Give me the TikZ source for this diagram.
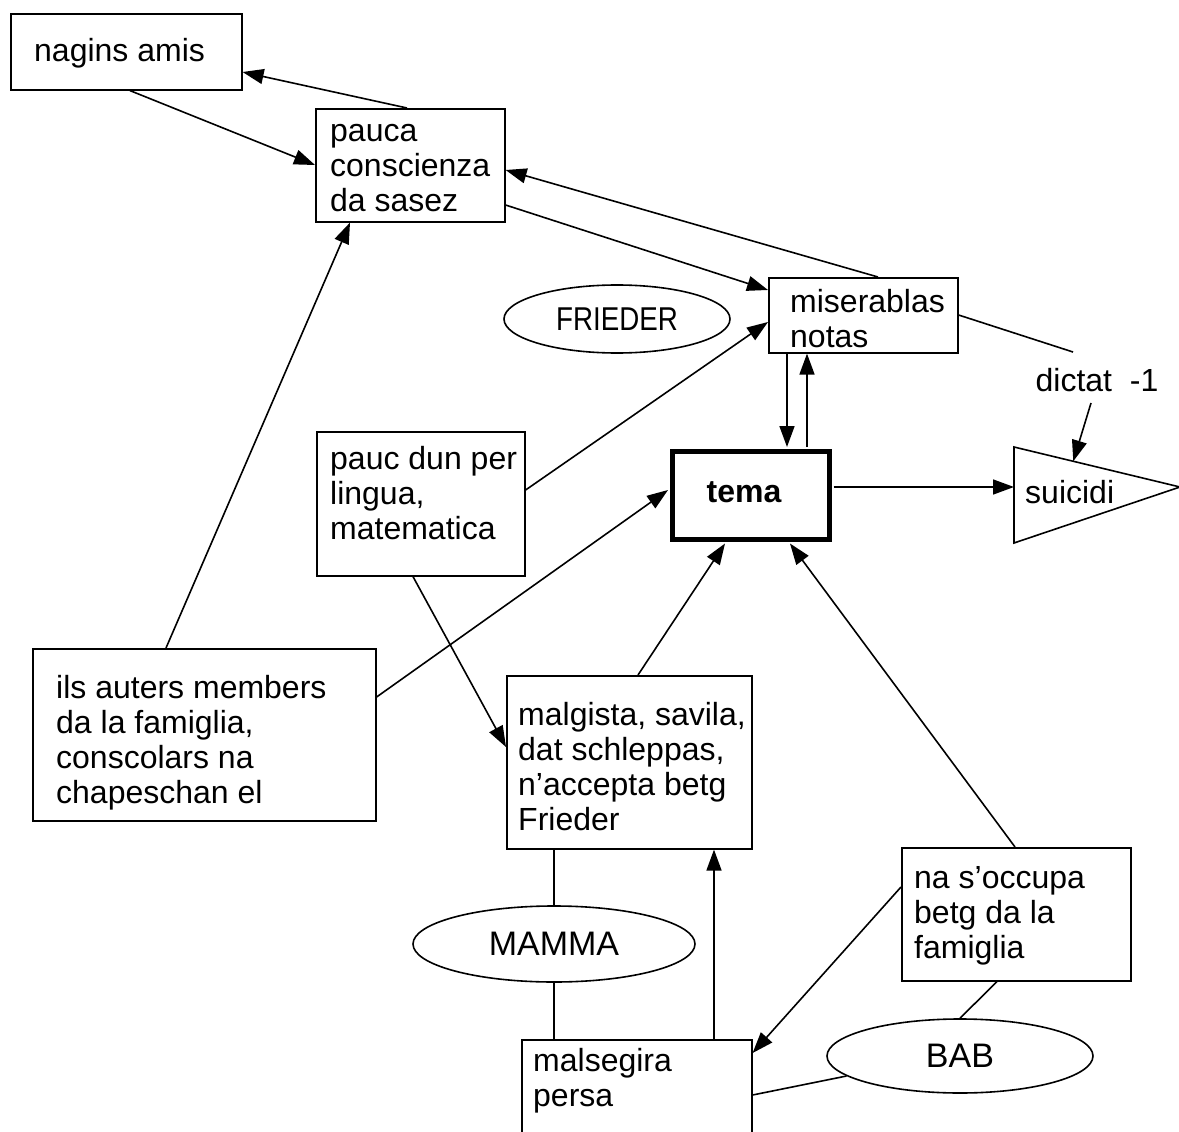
\documentclass[tikz,border=0pt]{standalone}
\usepackage{fontspec}
\setmainfont{Liberation Sans}
\usetikzlibrary{arrows.meta,shapes.geometric,calc}
\begin{document}
\begin{tikzpicture}[x=1pt,y=-1pt,
  box/.style={draw,rectangle,anchor=north west,inner sep=0pt,line width=1.6pt},
  txt/.style={anchor=west,align=left,inner sep=0pt,font=\fontsize{32}{35}\selectfont},
  oval/.style={draw,ellipse,inner sep=0pt,line width=1.6pt,font=\fontsize{34}{38}\selectfont},
  conn/.style={line width=1.6pt},
  arr/.style={conn,-{Triangle[length=21pt,width=15pt]}}]
\clip (0,0) rectangle (1179,1132);
\fill[white] (0,0) rectangle (1179,1132);

% boxes
\node[box,minimum width=231pt,minimum height=76pt] (nagins) at (10,13) {};
\node[box,minimum width=189pt,minimum height=113pt] (pauca) at (315,108) {};
\node[box,minimum width=189pt,minimum height=75pt] (misera) at (768,277) {};
\node[box,minimum width=208pt,minimum height=144pt] (paucdun) at (316,431) {};
\node[box,minimum width=343pt,minimum height=172pt] (ils) at (32,648) {};
\node[box,line width=4.5pt,minimum width=157pt,minimum height=88pt] (tema) at (670,449) {};
\node[box,minimum width=245pt,minimum height=173pt] (malgista) at (506,675) {};
\node[box,minimum width=229pt,minimum height=133pt] (nasocc) at (901,847) {};
\node[box,minimum width=230pt,minimum height=130pt] (malseg) at (521,1039) {};

% ellipses
\node[oval,minimum width=226pt,minimum height=68pt] (frieder) at (617,319) {\fontsize{33}{36}\selectfont\scalebox{0.84}[1]{FRIEDER}};
\node[oval,minimum width=282pt,minimum height=76pt] (mamma) at (554,944) {MAMMA};
\node[oval,minimum width=266pt,minimum height=74pt] (bab) at (960,1056) {BAB};

% suicidi triangle
\coordinate (sA) at (1014,447);
\coordinate (sB) at (1014,543);
\coordinate (sC) at (1180,487);
\coordinate (sL) at (1014,487);
\coordinate (sT) at ($(sA)!0.357!(sC)$);
\draw[conn,line join=miter] (sA) -- (sC) -- (sB) -- cycle;

% texts
\node[txt] (tnagins) at (34,53) {nagins amis};
\node[txt] (tpauca) at (330,168) {pauca\\conscienza\\da sasez};
\node[txt] (tmisera) at (790,319) {miserablas\\notas};
\node[txt] (tpaucdun) at (330,493) {pauc dun per\\lingua,\\matematica};
\node[txt] (tils) at (56,743) {ils auters members\\da la famiglia,\\conscolars na\\chapeschan el};
\node[txt] (tmalgista) at (518,767) {malgista, savila,\\dat schleppas,\\n’accepta betg\\Frieder};
\node[txt] (tnasocc) at (914,916) {na s’occupa\\betg da la\\famiglia};
\node[txt] (tmalseg) at (533,1081) {malsegira\\persa};
\node[txt] (tsuicidi) at (1025,492) {suicidi};
\node[txt,anchor=center,font=\fontsize{32}{35}\selectfont\bfseries] (ttema) at (744,492) {tema};
\node[txt,anchor=center] (dictat) at (1097,380) {dictat\ \ -1};
\coordinate (dictatL) at (1073,352);
\coordinate (dictatA) at (1091,403);

% connectors
\draw[arr] ($(pauca.north west)+(92,0)$) -- ($(nagins.north east)+(0,59)$);
\draw[arr] ($(nagins.south west)+(120,0)$) -- ($(pauca.north west)+(0,57)$);
\draw[arr] ($(misera.north west)+(110,0)$) -- ($(pauca.north east)+(0,62)$);
\draw[arr] ($(pauca.north east)+(0,97)$) -- ($(misera.north west)+(0,13)$);
\draw[arr] ($(ils.north west)+(134,0)$) -- ($(pauca.south west)+(35,0)$);
\draw[arr] ($(paucdun.north east)+(0,59)$) -- ($(misera.north west)+(0,45)$);
\draw[arr] ($(ils.north east)+(0,49)$) -- ($(tema.north west)+(-2,41)$);
\draw[arr] ($(misera.south west)+(19,0)$) -- ($(tema.north west)+(117,-2)$);
\draw[arr] ($(tema.north west)+(137,-2)$) -- ($(misera.south west)+(39,0)$);
\draw[arr] ($(tema.north east)+(2,38)$) -- (sL);
\draw[conn] ($(misera.north east)+(0,38)$) -- (dictatL);
\draw[arr] (dictatA) -- (sT);
\draw[arr] ($(paucdun.south west)+(97,0)$) -- ($(malgista.north west)+(0,72)$);
\draw[arr] ($(malgista.north west)+(132,0)$) -- ($(tema.south west)+(55,2)$);
\draw[arr] ($(nasocc.north west)+(114,0)$) -- ($(tema.south west)+(120,2)$);
\draw[conn] ($(malgista.south west)+(48,0)$) -- (mamma.north);
\draw[conn] (mamma.south) -- ($(malseg.north west)+(33,0)$);
\draw[arr] ($(malseg.north west)+(193,0)$) -- ($(malgista.south west)+(208,0)$);
\draw[arr] ($(nasocc.north west)+(0,40)$) -- ($(malseg.north east)+(0,14)$);
\draw[conn] ($(nasocc.south west)+(96,0)$) -- (bab.north);
\draw[conn] (bab.190) -- ($(malseg.north east)+(0,56)$);
\end{tikzpicture}
\end{document}
